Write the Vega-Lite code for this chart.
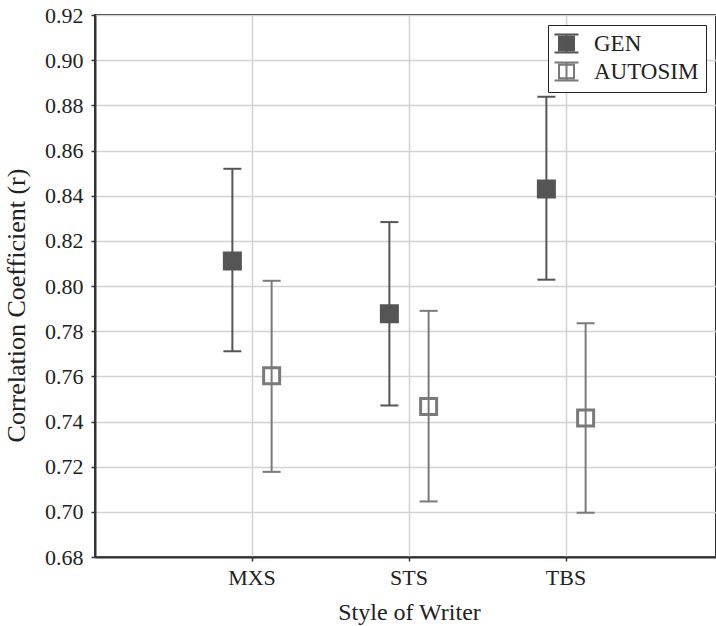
{
  "$schema": "https://vega.github.io/schema/vega-lite/v6.json",
  "width": 621,
  "height": 542,
  "autosize": {"type": "none"},
  "padding": {"left": 95, "top": 15, "right": 0, "bottom": 69},
  "config": {
    "font": "Liberation Serif",
    "view": {"stroke": "#333333", "strokeWidth": 2},
    "axis": {
      "labelFont": "Liberation Serif",
      "titleFont": "Liberation Serif",
      "labelFontSize": 22,
      "titleFontSize": 24,
      "labelColor": "#222222",
      "titleColor": "#222222",
      "titleFontWeight": "normal",
      "domainColor": "#333333",
      "domainWidth": 2,
      "tickColor": "#333333",
      "tickWidth": 1.5,
      "gridColor": "#d2d2d2",
      "gridWidth": 1.5,
      "gridOpacity": 1
    },
    "legend": {
      "labelFont": "Liberation Serif",
      "labelFontSize": 23,
      "labelColor": "#222222",
      "strokeColor": "#222222",
      "fillColor": "white",
      "padding": 7,
      "symbolType": "M-0.75,-0.68H0.75V0.68H-0.75Z M-1.2,-0.9H1.2 M-1.2,0.9H1.2 M0,-0.9V0.9",
      "symbolSize": 400,
      "symbolStrokeWidth": 2,
      "rowPadding": 1,
      "labelOffset": 16
    }
  },
  "data": {
    "values": [
      {"style": "MXS", "series": "GEN", "mean": 0.8111, "lo": 0.7711, "hi": 0.8519},
      {"style": "MXS", "series": "AUTOSIM", "mean": 0.7603, "lo": 0.7177, "hi": 0.8023},
      {"style": "STS", "series": "GEN", "mean": 0.7877, "lo": 0.7471, "hi": 0.8283},
      {"style": "STS", "series": "AUTOSIM", "mean": 0.7466, "lo": 0.7046, "hi": 0.789},
      {"style": "TBS", "series": "GEN", "mean": 0.843, "lo": 0.8028, "hi": 0.8838},
      {"style": "TBS", "series": "AUTOSIM", "mean": 0.7416, "lo": 0.6996, "hi": 0.7835}
    ]
  },
  "layer": [
    {
      "mark": {"type": "point", "shape": "square", "size": 256, "strokeWidth": 3, "opacity": 1},
      "encoding": {
        "x": {
          "field": "style",
          "type": "nominal",
          "sort": ["MXS", "STS", "TBS"],
          "scale": {"type": "band", "range": [0, 628], "paddingInner": 0, "paddingOuter": 0.5},
          "axis": {
            "title": "Style of Writer",
            "labelAngle": 0,
            "bandPosition": 0.5,
            "grid": true,
            "tickSize": 4,
            "labelPadding": 6,
            "titlePadding": 12
          }
        },
        "xOffset": {
          "field": "series",
          "type": "nominal",
          "sort": ["GEN", "AUTOSIM"],
          "scale": {"domain": ["GEN", "AUTOSIM"], "paddingInner": 0, "paddingOuter": 2.413}
        },
        "y": {
          "field": "mean",
          "type": "quantitative",
          "scale": {"domain": [0.68, 0.92], "nice": false, "zero": false},
          "axis": {
            "title": "Correlation Coefficient (r)",
            "values": [0.68, 0.7, 0.72, 0.74, 0.76, 0.78, 0.8, 0.82, 0.84, 0.86, 0.88, 0.9, 0.92],
            "format": ".2f",
            "grid": true,
            "tickSize": 4,
            "labelPadding": 8,
            "titleFontSize": 26,
            "titleX": -79,
            "titleY": 290,
            "titleBaseline": "middle"
          }
        },
        "fill": {
          "field": "series",
          "type": "nominal",
          "scale": {"domain": ["GEN", "AUTOSIM"], "range": ["#555555", "#ffffff"]},
          "legend": {"title": null, "orient": "top-right", "offset": 10}
        },
        "stroke": {
          "field": "series",
          "type": "nominal",
          "scale": {"domain": ["GEN", "AUTOSIM"], "range": ["#555555", "#7a7a7a"]},
          "legend": null
        }
      }
    },
    {
      "mark": {"type": "rule", "strokeWidth": 2},
      "encoding": {
        "x": {"field": "style", "type": "nominal", "sort": ["MXS", "STS", "TBS"]},
        "xOffset": {"field": "series", "type": "nominal", "sort": ["GEN", "AUTOSIM"]},
        "y": {"field": "lo", "type": "quantitative"},
        "y2": {"field": "hi"},
        "color": {
          "field": "series",
          "type": "nominal",
          "scale": {"domain": ["GEN", "AUTOSIM"], "range": ["#555555", "#7a7a7a"]},
          "legend": null
        }
      }
    },
    {
      "mark": {"type": "point", "shape": "M-1,0H1", "size": 324, "strokeWidth": 2, "filled": false, "opacity": 1},
      "encoding": {
        "x": {"field": "style", "type": "nominal", "sort": ["MXS", "STS", "TBS"]},
        "xOffset": {"field": "series", "type": "nominal", "sort": ["GEN", "AUTOSIM"]},
        "y": {"field": "lo", "type": "quantitative"},
        "color": {"field": "series", "type": "nominal", "legend": null}
      }
    },
    {
      "mark": {"type": "point", "shape": "M-1,0H1", "size": 324, "strokeWidth": 2, "filled": false, "opacity": 1},
      "encoding": {
        "x": {"field": "style", "type": "nominal", "sort": ["MXS", "STS", "TBS"]},
        "xOffset": {"field": "series", "type": "nominal", "sort": ["GEN", "AUTOSIM"]},
        "y": {"field": "hi", "type": "quantitative"},
        "color": {"field": "series", "type": "nominal", "legend": null}
      }
    }
  ]
}
